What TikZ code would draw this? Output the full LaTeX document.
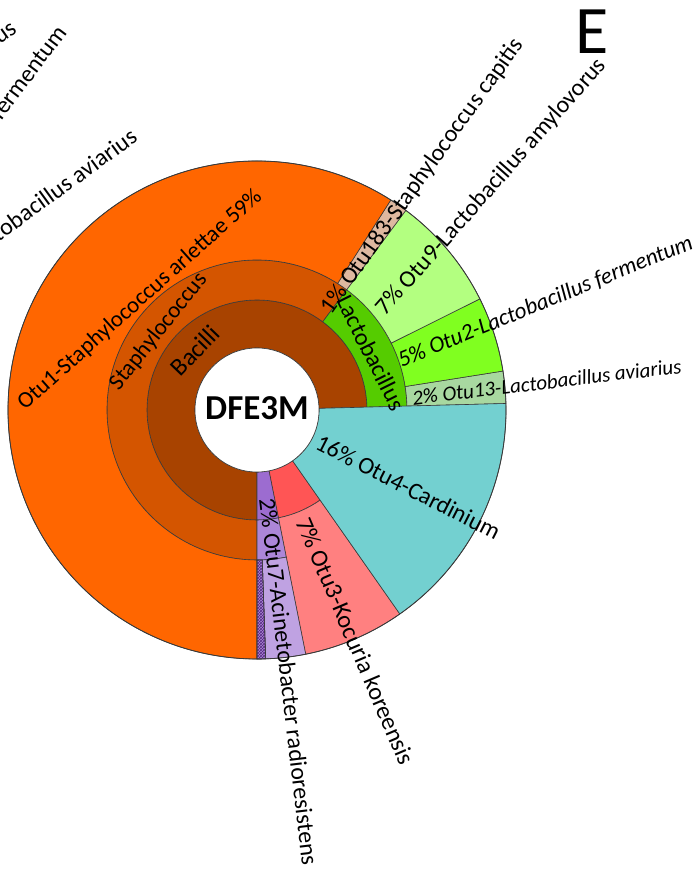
\documentclass[tikz,border=0pt]{standalone}
\usepackage{fontspec}
\setmainfont{Carlito}
\usetikzlibrary{patterns}

\definecolor{cBacilli}{HTML}{A84300}
\definecolor{cStaph}{HTML}{D45500}
\definecolor{cArlettae}{HTML}{FF6600}
\definecolor{cCapitis}{HTML}{DEB8A0}
\definecolor{cLacto}{HTML}{55CC00}
\definecolor{cAmylo}{HTML}{B3FF80}
\definecolor{cFerm}{HTML}{80FF20}
\definecolor{cAviar}{HTML}{A8D8A0}
\definecolor{cCard}{HTML}{73D0D0}
\definecolor{cKocIn}{HTML}{FF5555}
\definecolor{cKocOut}{HTML}{FF8080}
\definecolor{cAciA}{HTML}{9C6CD0}
\definecolor{cAciB}{HTML}{AC86D8}
\definecolor{cAciC}{HTML}{BFA2E2}
\definecolor{cHatch}{HTML}{55287F}
\definecolor{cEdge}{HTML}{3A3A3A}

% one annular sector: style, inner radius, outer radius, start angle, end angle
\newcommand\ringpart[5]{%
  \path[#1] (#4:#2) arc[start angle=#4, end angle=#5, radius=#2pt]
    -- (#5:#3) arc[start angle=#5, end angle=#4, radius=#3pt] -- cycle;}

\tikzset{
  seg/.style={draw=cEdge, line width=0.6pt, fill=#1},
  lab/.style={inner sep=0pt, font=\fontsize{24}{28}\selectfont},
  labit/.style={inner sep=0pt, font=\fontsize{23}{27}\selectfont\itshape},
}

\begin{document}
\begin{tikzpicture}[x=1pt, y=1pt]
\useasboundingbox (0,0) rectangle (693,872);
\clip (0,0) rectangle (693,872);

\begin{scope}[shift={(257,462)}]
  % class ring
  \ringpart{seg=cBacilli}{62}{110}{1.5}{270}
  % genus ring
  \ringpart{seg=cStaph}{110}{150}{53.3}{270}
  \ringpart{seg=cLacto}{110}{150}{1.5}{53.3}
  % species ring
  \ringpart{seg=cAviar}{150}{249}{1.5}{9}
  \ringpart{seg=cFerm}{150}{249}{9}{26.5}
  \ringpart{seg=cAmylo}{150}{249}{26.5}{53.3}
  \ringpart{seg=cCapitis}{150}{249}{53.3}{57.5}
  \ringpart{seg=cArlettae}{150}{249}{57.5}{270}
  % Acinetobacter
  \ringpart{seg=cAciA}{62}{110}{270}{281.3}
  \ringpart{seg=cAciB}{110}{150}{270}{281.3}
  \ringpart{seg=cAciC}{150}{249}{272}{281.3}
  \ringpart{seg=cAciB}{150}{249}{270}{272}
  \ringpart{draw=cEdge, line width=0.6pt, pattern=crosshatch, pattern color=cHatch}{150}{249}{270}{272}
  % Kocuria
  \ringpart{seg=cKocIn}{62}{110}{281.3}{305}
  \ringpart{seg=cKocOut}{110}{249}{281.3}{305}
  % Cardinium
  \ringpart{seg=cCard}{62}{249}{305}{361.5}
  % rim and hole
  \draw[cEdge, line width=0.8pt] (0,0) circle[radius=249pt];
  \filldraw[fill=white, draw=cEdge, line width=0.6pt] (0,0) circle[radius=62pt];

  % ring labels
  \node[lab, font=\fontsize{25}{30}\selectfont, rotate=46] (bacilli) at (136:86) {Bacilli};
  \node[lab, font=\fontsize{23}{27}\selectfont, rotate=51.5] (staph) at (141.5:126) {Staphylococcus};
  \node[lab, rotate=-63.5] (lacto) at (26.5:128) {Lactobacillus};

  % species labels
  \node[lab, font=\fontsize{23}{27}\selectfont, rotate=41.8] (arlettae) at (-117,110) {Otu1-Staphylococcus arlettae 59\%};
  \node[lab, anchor=west, rotate=54.5] (capitis) at (55:120) {1\% Otu183-Staphylococcus capitis};
  \node[lab, anchor=west, rotate=48.5] (amylo) at (124,98) {7\% Otu9-Lactobacillus amylovorus};
  \node[labit, anchor=west, rotate=22.2] (ferm) at (142,48.5) {5\% Otu2-Lactobacillus fermentum};
  \node[labit, anchor=west, rotate=6.8, font=\fontsize{21}{25}\selectfont\itshape] (aviar) at (155,12) {2\% Otu13-Lactobacillus aviarius};
  \node[lab, anchor=west, rotate=-27] (card) at (-27:68) {16\% Otu4-Cardinium};
  \node[lab, font=\fontsize{24.5}{29}\selectfont, anchor=west, rotate=-66.9] (koc) at (-66.9:118) {7\% Otu3-Kocuria koreensis};
  \node[lab, anchor=west, rotate=-83.3] (aci) at (-83.3:89) {2\% Otu7-Acinetobacter radioresistens};
\end{scope}

\node[inner sep=0pt, anchor=base, font=\fontsize{35}{40}\selectfont\bfseries] (sample) at (257,452) {DFE3M};
\node[inner sep=0pt, anchor=base, font=\fontsize{68}{80}\selectfont] (panel) at (592,818) {E};

% labels of the neighbouring chart, running in from the left edge
\node[lab, anchor=base east, rotate=35] (nbA) at (18,840) {amylovorus};
\node[lab, anchor=base east, rotate=53] (nbB) at (68,839) {fermentum};
\node[lab, anchor=base east, rotate=36] (nbC) at (139,732) {Lactobacillus aviarius};
\end{tikzpicture}
\end{document}
